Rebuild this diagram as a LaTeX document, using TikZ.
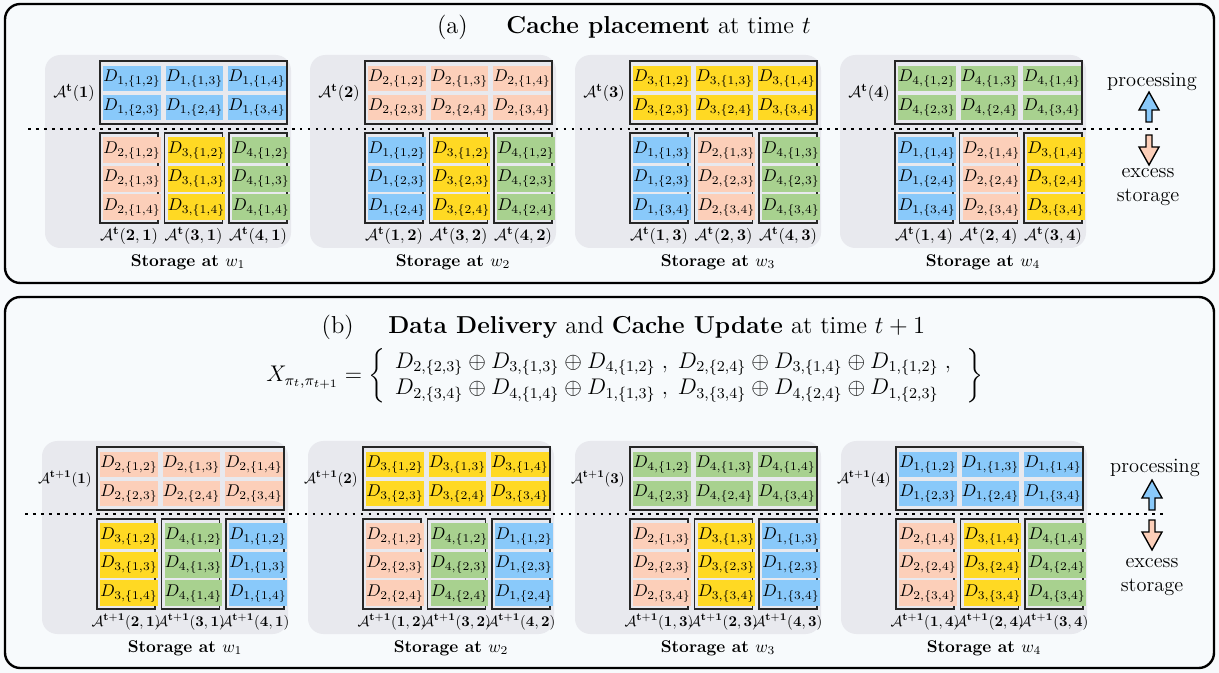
\documentclass[tikz,border=0pt]{standalone}
\usepackage{amsmath}
\usepackage{amssymb}
\usepackage{xcolor}

\definecolor{pagebg}{RGB}{247,250,252}
\definecolor{blockbg}{RGB}{232,233,238}
\definecolor{dcol1}{RGB}{137,201,250}
\definecolor{dcol2}{RGB}{252,207,185}
\definecolor{dcol3}{RGB}{255,217,35}
\definecolor{dcol4}{RGB}{168,209,143}

\newcommand\px{0.588pt}
\newcommand\labscale{0.95}

\tikzset{
  frame/.style={draw=black, line width=1.4pt, rounded corners=9pt},
  storagebg/.style={fill=blockbg, rounded corners=9pt},
  groupbox/.style={draw=black!85, line width=0.9pt},
  cell/.style={fill=#1, inner sep=0pt, minimum width=55*\px, minimum height=25*\px, font=\normalsize},
  tallcell/.style={fill=#1, inner sep=0pt, minimum width=52*\px, minimum height=26*\px, font=\normalsize},
  splitline/.style={line width=1.4pt, dash pattern=on 1.6pt off 3.1pt},
  boxlabel/.style={inner sep=0pt, scale=\labscale},
  storagelabel/.style={font=\bfseries, inner sep=0pt},
  sidetext/.style={align=center, inner sep=0pt, font=\large},
  heading/.style={font=\Large, inner sep=0pt},
  pics/blockarrow/.style={code={
    \draw[line width=0.8pt, fill=#1] (-3,0) -- (3,0) -- (3,-12) -- (10,-12) -- (0,-30) -- (-10,-12) -- (-3,-12) -- cycle;
  }}
}

% #1 name, #2 X, #3 Y, #4 time, #5 user, #6 top file, #7 j/file list, #8 subsets
\newcommand\storageblock[8]{%
  \fill[storagebg] (#2-55,#3-6) rectangle (#2+191,#3+187);
  \draw[groupbox] (#2,#3) rectangle (#2+187,#3+63);
  \foreach \sub [count=\ii from 0] in {{1,2},{1,3},{1,4},{2,3},{2,4},{3,4}} {
    \pgfmathtruncatemacro\cc{mod(\ii,3)}
    \pgfmathtruncatemacro\rr{\ii/3}
    \node[cell=dcol#6, anchor=north west] (#1-top-\ii) at (#2+3+62.5*\cc, #3+5+29*\rr) {$D_{#6,\{\sub\}}$};
  }
  \node[boxlabel, anchor=east] (#1-lab) at (#2-5,#3+32) {$\mathcal{A}^{\mathbf{#4}}(\mathbf{#5})$};
  \foreach \jj/\dd [count=\bb from 0] in {#7} {
    \draw[groupbox] (#2+64.5*\bb,#3+72) rectangle (#2+64.5*\bb+58,#3+162);
    \foreach \sub [count=\rr from 0] in {#8} {
      \node[tallcell=dcol\dd, anchor=north west] (#1-col\bb-\rr) at (#2+64.5*\bb+3, #3+76+28.5*\rr) {$D_{\dd,\{\sub\}}$};
    }
    \node[boxlabel] (#1-lab\bb) at (#2+64.5*\bb+29,#3+175) {$\mathcal{A}^{\mathbf{#4}}(\mathbf{\jj},\mathbf{#5})$};
  }
  \node[storagelabel] (#1-name) at (#2+88,#3+201) {Storage at $w_{#5}$};
}

\begin{document}
\begin{tikzpicture}[x=0.588pt, y=-0.588pt]
  \fill[pagebg] (0,0) rectangle (1219,673);
  \useasboundingbox (0,0) rectangle (1219,673);

  % (a) cache placement
  \draw[frame] (5,4) rectangle (1214,283);
  \node[heading, anchor=base east] (tag-a) at (468,34) {(a)};
  \node[heading, anchor=base west] (title-a) at (506,34) {\textbf{Cache placement} at time $t$};
  \storageblock{a1}{100}{61}{t}{1}{1}{2/2,3/3,4/4}{{1,2},{1,3},{1,4}}
  \storageblock{a2}{365}{61}{t}{2}{2}{1/1,3/3,4/4}{{1,2},{2,3},{2,4}}
  \storageblock{a3}{630}{61}{t}{3}{3}{1/1,2/2,4/4}{{1,3},{2,3},{3,4}}
  \storageblock{a4}{895}{61}{t}{4}{4}{1/1,2/2,3/3}{{1,4},{2,4},{3,4}}
  \draw[splitline] (28,129) -- (1162,129);
  \node[sidetext] (proc-a) at (1152,82) {processing};
  \pic at (1149,122) {blockarrow=dcol1};
  \pic[rotate=180] at (1149,135) {blockarrow=dcol2};
  \node[sidetext] (exc-a) at (1148,187) {excess\\storage};

  % (b) delivery and update
  \renewcommand\labscale{0.87}
  \draw[frame] (5,297) rectangle (1214,668);
  \node[heading, anchor=base east] (tag-b) at (354,334) {(b)};
  \node[heading, anchor=base west] (title-b) at (388,334) {\textbf{Data Delivery} and \textbf{Cache Update} at time $t+1$};
  \node[font=\large, scale=1.11] (xor) at (625,376) {$X_{\pi_t,\pi_{t+1}} = \left\{\begin{array}{l}
    D_{2,\{2,3\}} \oplus D_{3,\{1,3\}} \oplus D_{4,\{1,2\}} \;,\; D_{2,\{2,4\}} \oplus D_{3,\{1,4\}} \oplus D_{1,\{1,2\}} \;, \\
    D_{2,\{3,4\}} \oplus D_{4,\{1,4\}} \oplus D_{1,\{1,3\}} \;,\; D_{3,\{3,4\}} \oplus D_{4,\{2,4\}} \oplus D_{1,\{2,3\}}
    \end{array}\;\right\}$};
  \storageblock{b1}{97}{447}{t+1}{1}{2}{2/3,3/4,4/1}{{1,2},{1,3},{1,4}}
  \storageblock{b2}{363}{447}{t+1}{2}{3}{1/2,3/4,4/1}{{1,2},{2,3},{2,4}}
  \storageblock{b3}{630}{447}{t+1}{3}{4}{1/2,2/3,4/1}{{1,3},{2,3},{3,4}}
  \storageblock{b4}{896}{447}{t+1}{4}{1}{1/2,2/3,3/4}{{1,4},{2,4},{3,4}}
  \draw[splitline] (25,514) -- (1165,514);
  \node[sidetext] (proc-b) at (1155,468) {processing};
  \pic at (1152,510) {blockarrow=dcol1};
  \pic[rotate=180] at (1152,520) {blockarrow=dcol2};
  \node[sidetext] (exc-b) at (1152,577) {excess\\storage};
\end{tikzpicture}
\end{document}
